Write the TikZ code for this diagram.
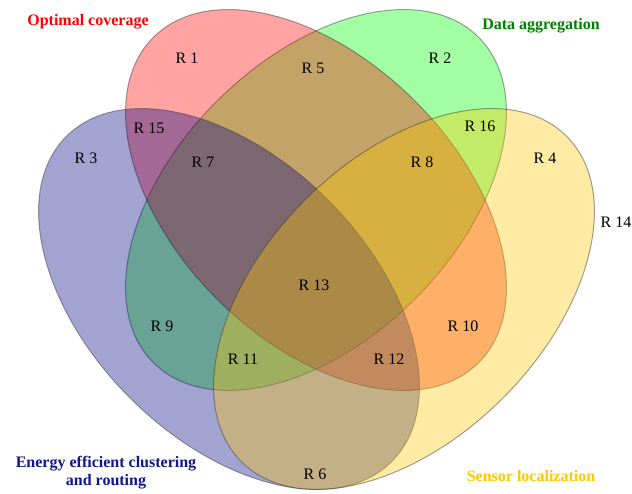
\documentclass[tikz,border=0pt]{standalone}
\usepackage{fontspec}
\setmainfont{Liberation Serif}
\definecolor{vertfonce}{RGB}{0,128,0}
\definecolor{bleufonce}{RGB}{20,20,140}
\definecolor{jaune}{RGB}{255,200,0}
\definecolor{bleuset}{RGB}{0,0,128}
\tikzset{region/.style = {font=\fontsize{16}{18}\selectfont, inner sep=0pt},
         titre/.style  = {font=\fontsize{16}{18}\selectfont\bfseries, align=center, inner sep=0pt},
         ensemble/.style = {fill=#1, fill opacity=0.36, draw=black!75, draw opacity=0.5, line width=1pt},
         ensemble/.default=gray
        }

\begin{document}
\begin{tikzpicture}[x=1pt,y=1pt]
  \useasboundingbox (0,0) rectangle (632,494);
  % the four sets
  \draw[ensemble=green]   (316,294) ellipse [x radius=230pt, y radius=140pt, rotate=45];
  \draw[ensemble=red]     (316,294) ellipse [x radius=230pt, y radius=140pt, rotate=-45];
  \draw[ensemble=bleuset] (229,195) ellipse [x radius=230pt, y radius=140pt, rotate=-45];
  \draw[ensemble=jaune]   (404,195) ellipse [x radius=230pt, y radius=140pt, rotate=45];
  % regions
  \node[region] (r1)  at (187,436) {R 1};
  \node[region] (r2)  at (440,436) {R 2};
  \node[region] (r3)  at (86,336)  {R 3};
  \node[region] (r4)  at (545,336) {R 4};
  \node[region] (r5)  at (313,426) {R 5};
  \node[region] (r6)  at (315,20)  {R 6};
  \node[region] (r7)  at (203,332) {R 7};
  \node[region] (r8)  at (422,332) {R 8};
  \node[region] (r9)  at (162,168) {R 9};
  \node[region] (r10) at (463,168) {R 10};
  \node[region] (r11) at (243,135) {R 11};
  \node[region] (r12) at (389,135) {R 12};
  \node[region] (r13) at (314,209) {R 13};
  \node[region] (r14) at (616,272) {R 14};
  \node[region] (r15) at (149,366) {R 15};
  \node[region] (r16) at (480,368) {R 16};
  % set names
  \node[titre, text=red]        (couverture) at (88,472)  {Optimal coverage};
  \node[titre, text=vertfonce]  (agregation) at (541,468) {Data aggregation};
  \node[titre, text=bleufonce]  (energie)    at (106,21)  {Energy efficient clustering\\and routing};
  \node[titre, text=jaune]      (localisation) at (531,18) {Sensor localization};
\end{tikzpicture}
\end{document}
